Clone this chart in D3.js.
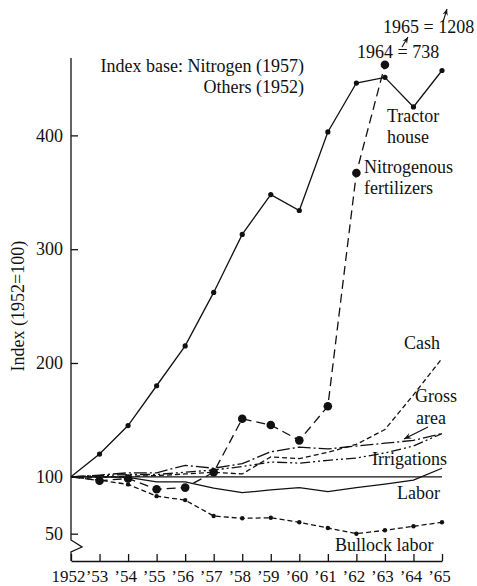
<!DOCTYPE html>
<html>
<head>
<meta charset="utf-8">
<script src="https://cdn.jsdelivr.net/npm/d3@7"></script>
<style>
    body { margin: 0; background: #fff; }
    text { font-family: "Liberation Serif", "Times New Roman", serif; fill: #111; }
    .axis path, .axis line { stroke: #111; stroke-width: 1.3; }
    .axis text { font-family: "Liberation Serif", serif; fill: #111; }
    .x-axis text { font-size: 17px; }
    .y-axis text { font-size: 18px; }
    .line { fill: none; stroke: #111; stroke-width: 1.3; }
</style>
</head>
<body>
<div id="chart"></div>
<script>
// Données
const years = [1952, 1953, 1954, 1955, 1956, 1957, 1958, 1959, 1960, 1961, 1962, 1963, 1964, 1965];
const xTickLabels = ["1952", "\u201953", "\u201954", "\u201955", "\u201956", "\u201957", "\u201958",
    "\u201959", "\u201960", "\u201961", "\u201962", "\u201963", "\u201964", "\u201965"];
const yTicks = [50, 100, 200, 300, 400];

const tractorHouse = [100, 120, 145, 180, 215, 262, 313, 348, 334, 403, 446, 451, 425, 457];
const nitrogen = [100, 96.5, 98.5, 89, 90.5, 104, 151, 145.5, 132, 162, 367, 462];
const nitrogenOffChart = [738, 1208];   // 1964, 1965
const cash = [100, 99.5, 100.5, 101, 102.5, 104, 102.5, 117.5, 116, 121.5, 128.5, 141.5, 172, 204];
const grossArea = [100, 101.5, 103.5, 103.5, 110, 107.5, 111.5, 122, 126, 124.5, 127, 129.5, 132, 138];
const irrigations = [100, 101, 102, 102, 104, 106, 109, 113, 112, 114.5, 116.5, 121, 127, 138];
const labor = [100, 100, 99.5, 95.5, 95.5, 90, 86, 88.5, 90.5, 87, 90.5, 93.5, 97, 107.5];
const bullockLabor = [100, 97, 93.3, 83, 79.5, 65.5, 63.5, 64, 60, 55, 50, 53, 56.5, 60];

(function() {
    // Taille et marges du graphique
    const margin = { top: 58, right: 35, bottom: 25, left: 71 },
        width = 477 - margin.left - margin.right,
        height = 586 - margin.top - margin.bottom;

    const root = d3.select("#chart").append("svg")
        .attr("width", 477)
        .attr("height", 586);

    const svg = root.append("g")
        .attr("transform", `translate(${margin.left},${margin.top})`);

    // Échelles
    const x = d3.scaleLinear().domain([1952, 1965]).range([0, width]);
    const y = d3.scaleLinear().domain([26, 468]).range([height, 0]);

    // Axe X
    const xAxis = svg.append("g")
        .attr("class", "axis x-axis")
        .attr("transform", `translate(0,${height})`)
        .call(d3.axisBottom(x)
            .tickValues(years)
            .tickSize(-7)
            .tickSizeOuter(0)
            .tickFormat((d, i) => xTickLabels[i]));
    xAxis.selectAll("text").attr("y", 9).attr("dx", "-3");

    // Axe Y (avec coupure)
    const yAxis = svg.append("g")
        .attr("class", "axis y-axis")
        .call(d3.axisLeft(y).tickValues(yTicks).tickSize(-7).tickSizeOuter(0));
    yAxis.select(".domain").remove();
    yAxis.selectAll("text").attr("x", -8);

    svg.append("path")
        .attr("fill", "none")
        .attr("stroke", "#111")
        .attr("stroke-width", 1.3)
        .attr("d", `M0,0V${height - 21}L11,${height - 14}L0,${height - 9}V${height}`);

    // Titre de l'axe Y
    svg.append("text")
        .attr("transform", `translate(${-47},${y(250)}) rotate(-90)`)
        .attr("text-anchor", "middle")
        .style("font-size", "18px")
        .text("Index (1952=100)");

    // Ligne de base à 100
    svg.append("line")
        .attr("x1", x(1952)).attr("x2", x(1965))
        .attr("y1", y(100)).attr("y2", y(100))
        .attr("stroke", "#111").attr("stroke-width", 1.3);

    const line = d3.line()
        .x((d, i) => x(years[i]))
        .y(d => y(d));

    function drawSeries(values, dash, dotRadius) {
        svg.append("path")
            .datum(values)
            .attr("class", "line")
            .attr("d", line)
            .attr("stroke-dasharray", dash);
        if (dotRadius) {
            svg.selectAll(null)
                .data(values.slice(1))
                .enter().append("circle")
                .attr("cx", (d, i) => x(years[i + 1]))
                .attr("cy", d => y(d))
                .attr("r", dotRadius)
                .attr("fill", "#111");
        }
    }

    drawSeries(labor, null, 0);
    drawSeries(irrigations, "10,3,2,3,2,3", 0);
    drawSeries(grossArea, "13,3,2,3", 0);
    drawSeries(cash, "5,3", 0);
    drawSeries(bullockLabor, "5,3", 2.2);
    drawSeries(nitrogen, "9,5", 4.3);
    drawSeries(tractorHouse, null, 2.6);

    // Flèches
    function arrow(x1, y1, x2, y2, size) {
        const a = Math.atan2(y2 - y1, x2 - x1);
        svg.append("line")
            .attr("x1", x1).attr("y1", y1).attr("x2", x2).attr("y2", y2)
            .attr("stroke", "#111").attr("stroke-width", 1.1);
        const p = [
            [x2, y2],
            [x2 - size * Math.cos(a - 0.4), y2 - size * Math.sin(a - 0.4)],
            [x2 - size * 0.6 * Math.cos(a), y2 - size * 0.6 * Math.sin(a)],
            [x2 - size * Math.cos(a + 0.4), y2 - size * Math.sin(a + 0.4)]
        ];
        svg.append("path").attr("d", "M" + p.join("L") + "Z").attr("fill", "#111");
    }

    const X0 = -margin.left, Y0 = -margin.top;   // repère de la page
    arrow(X0 + 402, Y0 + 47, X0 + 408, Y0 + 37, 7);
    arrow(X0 + 443, Y0 + 22, X0 + 447, Y0 + 9, 7);
    arrow(X0 + 428, Y0 + 427, X0 + 404, Y0 + 439, 8);

    // Étiquettes
    const labels = [
        { t: "Index base: Nitrogen (1957)", x: 304, y: 72, a: "end" },
        { t: "Others (1952)", x: 304, y: 93, a: "end" },
        { t: `1964 = ${nitrogenOffChart[0]}`, x: 357, y: 58, a: "start" },
        { t: `1965 = ${nitrogenOffChart[1]}`, x: 383, y: 33, a: "start" },
        { t: "Tractor", x: 387, y: 122, a: "start" },
        { t: "house", x: 387, y: 143, a: "start" },
        { t: "Nitrogenous", x: 364, y: 173, a: "start" },
        { t: "fertilizers", x: 364, y: 194, a: "start" },
        { t: "Cash", x: 404, y: 349, a: "start" },
        { t: "Gross", x: 415, y: 402, a: "start" },
        { t: "area", x: 416, y: 424, a: "start" },
        { t: "Irrigations", x: 372, y: 465, a: "start" },
        { t: "Labor", x: 397, y: 499, a: "start" },
        { t: "Bullock labor", x: 335, y: 551, a: "start" }
    ];

    root.selectAll(".label")
        .data(labels)
        .enter().append("text")
        .attr("class", "label")
        .attr("x", d => d.x)
        .attr("y", d => d.y)
        .attr("text-anchor", d => d.a)
        .style("font-size", "18px")
        .text(d => d.t);
})();
</script>
</body>
</html>
